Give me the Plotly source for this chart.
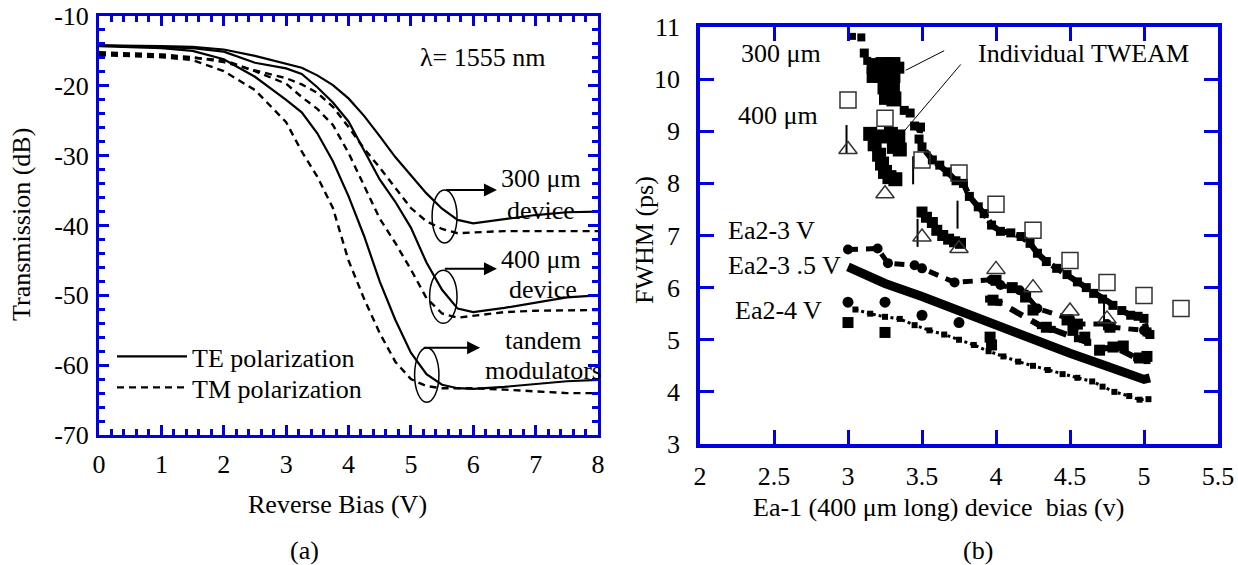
import plotly.graph_objects as go

FONT = "Liberation Serif"
BLUE = "#0000e0"
BLK = "black"

# ---------------- Panel (a) data ----------------
bias = [0, 0.5, 1, 1.5, 2, 2.5, 3, 3.25, 3.5, 3.75, 4, 4.25, 4.5, 4.75, 5,
        5.25, 5.5, 5.75, 6, 6.5, 7, 7.5, 8]
te_300 = [-14.2, -14.2, -14.3, -14.4, -14.8, -15.7, -16.8, -17.4, -18.5, -19.9, -21.8,
          -24.3, -27.2, -30.2, -32.8, -35.4, -37.6, -39.2, -39.7, -39.1, -38.5, -38.1, -38.0]
tm_300 = [-15.2, -15.3, -15.5, -15.9, -16.6, -17.8, -18.9, -19.8, -21.0, -23.0, -25.9,
          -29.0, -31.7, -34.6, -37.5, -39.4, -40.5, -41.1, -41.0, -40.8, -40.8, -40.8, -40.8]
te_400 = [-14.2, -14.3, -14.4, -14.6, -15.1, -16.7, -17.5, -18.3, -20.2, -22.4, -25.1,
          -29.2, -33.4, -36.6, -40.3, -45.3, -49.2, -51.9, -52.4, -51.8, -51.0, -50.3, -50.0]
tm_400 = [-15.4, -15.5, -15.7, -16.0, -16.3, -17.9, -19.7, -21.6, -23.3, -25.6, -29.6,
          -34.3, -39.0, -42.5, -46.3, -50.4, -52.6, -53.2, -52.9, -52.4, -52.2, -52.1, -52.1]
te_tandem = [-14.3, -14.4, -14.6, -15.0, -16.2, -18.7, -22.0, -23.8, -26.8, -30.8, -35.8,
             -41.5, -48.0, -53.5, -58.2, -61.3, -62.8, -63.3, -63.4, -63.1, -62.7, -62.3, -62.1]
tm_tandem = [-15.6, -15.7, -15.9, -16.3, -17.9, -20.6, -25.2, -29.4, -33.0, -37.5, -45.0,
             -50.5, -55.4, -59.5, -62.0, -63.0, -63.3, -63.3, -63.3, -63.5, -63.8, -64.0, -64.0]
a_xticks = [0, 1, 2, 3, 4, 5, 6, 7, 8]
a_yticks = [-70, -60, -50, -40, -30, -20, -10]
a_yticktext = ["-70", "-60", "-50", "-40", "-30", "-20", "-10"]

# ---------------- Panel (b) data ----------------
blob300_x = [3.03, 3.09, 3.11, 3.13, 3.18, 3.24, 3.30, 3.34, 3.18, 3.24, 3.30, 3.25, 3.30, 3.26, 3.31, 3.38, 3.42]
blob300_y = [10.82, 10.8, 10.5, 10.35, 10.25, 10.27, 10.27, 10.22, 10.08, 10.08, 10.08, 9.85, 9.85, 9.65, 9.62, 9.4, 9.35]
blob300_s = [7, 8, 9, 8, 16, 16, 16, 12, 16, 16, 16, 15, 15, 15, 15, 9, 9]

trail300_x = [3.45, 3.49, 3.48, 3.50, 3.57, 3.62, 3.67, 3.73, 3.78, 3.82, 3.88, 3.92, 3.97, 4.03,
              4.10, 4.17, 4.23, 4.28, 4.34, 4.41, 4.48, 4.55, 4.61, 4.66, 4.72, 4.79, 4.85, 4.91,
              4.96, 5.00, 5.02, 5.04]
trail300_y = [9.1, 9.08, 8.85, 8.7, 8.45, 8.35, 8.22, 8.05, 8.0, 7.75, 7.55, 7.42, 7.2, 7.08,
              7.05, 6.98, 6.85, 6.66, 6.5, 6.37, 6.25, 6.11, 6.0, 5.89, 5.78, 5.66, 5.56, 5.47,
              5.45, 5.41, 5.15, 5.1]

tweam400_x = [3.15, 3.18, 3.21, 3.23, 3.25, 3.28, 3.32, 3.34, 3.31, 3.35, 3.22, 3.29]
tweam400_y = [8.95, 8.75, 8.55, 8.38, 8.22, 8.12, 8.08, 8.9, 8.7, 8.65, 8.9, 8.95]
low400_x = [3.5, 3.53, 3.57, 3.6, 3.64, 3.68, 3.72, 3.76]
low400_y = [7.45, 7.35, 7.25, 7.1, 7.0, 6.93, 6.88, 6.85]

bars_x = [2.99, 3.44, 3.74, 3.47, 4.73]
bars_y = [8.85, 8.25, 7.4, 7.05, 5.45]

osq_x = [3.0, 3.25, 3.5, 3.75, 4.0, 4.25, 4.5, 4.75, 5.0, 5.25]
osq_y = [9.6, 9.25, 8.45, 8.2, 7.6, 7.1, 6.52, 6.1, 5.85, 5.6]
otri_x = [3.0, 3.25, 3.5, 3.75, 4.0, 4.25, 4.5, 4.75]
otri_y = [8.65, 7.8, 6.97, 6.75, 6.35, 6.0, 5.55, 5.4]

ea23_x = [3.0, 3.2, 3.27, 3.45, 3.5, 3.72, 3.97, 4.03, 4.16, 4.2, 4.28, 4.5, 4.55, 4.75, 4.78, 5.0, 5.03]
ea23_y = [6.73, 6.75, 6.47, 6.43, 6.37, 6.1, 6.15, 6.05, 5.95, 5.87, 5.6, 5.4, 5.3, 5.3, 5.24, 5.18, 5.12]

ea235_x = [3.0, 3.25, 3.5, 3.75, 4.0, 4.25, 4.5, 4.75, 5.0, 5.04]
ea235_y = [6.40, 6.08, 5.83, 5.55, 5.27, 5.02, 4.74, 4.49, 4.24, 4.27]

ea235d_x = [3.95, 4.02, 4.3, 4.38, 4.55, 4.62, 4.7, 4.8, 4.95, 5.02]
ea235d_y = [5.78, 5.72, 5.27, 5.2, 5.02, 4.95, 4.82, 4.86, 4.65, 4.6]

ea24c_x = [3.0, 3.25, 3.5, 3.75]
ea24c_y = [5.72, 5.72, 5.47, 5.33]
ea24s_x = [3.0, 3.25]
ea24s_y = [5.33, 5.14]
ea24d_x = [3.05, 3.15, 3.25, 3.35, 3.45, 3.55, 3.65, 3.75, 3.85, 3.95, 4.05, 4.15, 4.25, 4.35,
           4.45, 4.55, 4.65, 4.72, 4.8, 4.9, 4.97, 5.03]
ea24d_y = [5.58, 5.5, 5.44, 5.4, 5.28, 5.18, 5.1, 5.0, 4.9, 4.78, 4.68, 4.58, 4.5, 4.42,
           4.34, 4.27, 4.2, 4.1, 4.0, 3.92, 3.85, 3.86]

mid_x = [3.96, 3.97, 3.98, 4.0, 4.11, 4.2, 4.25, 4.34, 4.48, 4.52, 4.55, 4.6, 4.7, 4.77, 4.79, 4.86, 4.97, 5.02]
mid_y = [5.05, 4.9, 5.76, 6.14, 6.0, 5.82, 5.57, 5.24, 5.38, 5.18, 5.3, 5.05, 4.8, 5.24, 4.86, 4.88, 4.65, 4.68]

fig = go.Figure()

# ---- panel a traces
solid = dict(color=BLK, width=2.2)
dashed = dict(color=BLK, width=2.4, dash="7px,5px")
fig.add_trace(go.Scatter(x=bias, y=te_300, mode="lines", line=solid, name="TE polarization",
                         legend="legend", showlegend=True, xaxis="x", yaxis="y"))
fig.add_trace(go.Scatter(x=bias, y=te_400, mode="lines", line=solid, showlegend=False, xaxis="x", yaxis="y"))
fig.add_trace(go.Scatter(x=bias, y=te_tandem, mode="lines", line=solid, showlegend=False, xaxis="x", yaxis="y"))
fig.add_trace(go.Scatter(x=bias, y=tm_300, mode="lines", line=dashed, name="TM polarization",
                         legend="legend2", showlegend=True, xaxis="x", yaxis="y"))
fig.add_trace(go.Scatter(x=bias, y=tm_400, mode="lines", line=dashed, showlegend=False, xaxis="x", yaxis="y"))
fig.add_trace(go.Scatter(x=bias, y=tm_tandem, mode="lines", line=dashed, showlegend=False, xaxis="x", yaxis="y"))

# ---- panel b traces
NOLINE = dict(width=0)

def sc(x, y, **kw):
    fig.add_trace(go.Scatter(x=x, y=y, xaxis="x2", yaxis="y2", showlegend=False, **kw))

sc(ea24d_x, ea24d_y, mode="lines+markers", line=dict(color=BLK, width=3, dash="dot"),
   marker=dict(symbol="square", size=6, color=BLK, line=NOLINE, opacity=1))
sc(ea235_x, ea235_y, mode="lines", line=dict(color=BLK, width=9))
sc(ea235d_x, ea235d_y, mode="lines+markers", line=dict(color=BLK, width=6, dash="14px,10px"),
   marker=dict(symbol="square", size=7, color=BLK, line=NOLINE, opacity=1))
sc(ea23_x, ea23_y, mode="lines+markers", line=dict(color=BLK, width=5, dash="10px,8px"),
   marker=dict(symbol="circle", size=10, color=BLK, line=NOLINE, opacity=1))
sc(ea24c_x, ea24c_y, mode="markers", marker=dict(symbol="circle", size=11, color=BLK, line=NOLINE, opacity=1))
sc(ea24s_x, ea24s_y, mode="markers", marker=dict(symbol="square", size=11, color=BLK, line=NOLINE, opacity=1))
sc(mid_x, mid_y, mode="markers", marker=dict(symbol="square", size=11, color=BLK, line=NOLINE, opacity=1))
sc(blob300_x, blob300_y, mode="markers",
   marker=dict(symbol="square", size=blob300_s, color=BLK, line=NOLINE, opacity=1))
sc(trail300_x, trail300_y, mode="lines+markers", line=dict(color=BLK, width=6, dash="12px,4px"),
   marker=dict(symbol="square", size=9, color=BLK, line=NOLINE, opacity=1))
sc(tweam400_x, tweam400_y, mode="markers",
   marker=dict(symbol="square", size=14, color=BLK, line=NOLINE, opacity=1))
sc(low400_x, low400_y, mode="lines+markers", line=dict(color=BLK, width=7),
   marker=dict(symbol="square", size=11, color=BLK, line=NOLINE, opacity=1))
sc(bars_x, bars_y, mode="markers", marker=dict(symbol="line-ns", size=20, opacity=1,
                                              line=dict(color=BLK, width=2)))
sc(osq_x, osq_y, mode="markers", marker=dict(symbol="square-open", size=16, color="#333333", opacity=1,
                                            line=dict(width=1.5)))
sc(otri_x, otri_y, mode="markers", marker=dict(symbol="triangle-up-open", size=16, color="#333333",
                                              opacity=1, line=dict(width=1.5)))

ann = []
def txt(x, y, t, xref="x", yref="y", size=26, **kw):
    d = dict(x=x, y=y, xref=xref, yref=yref, text=t, showarrow=False,
             xanchor="center", yanchor="middle",
             font=dict(family=FONT, size=size, color=BLK))
    d.update(kw)
    ann.append(d)

# panel a labels
txt(6.15, -16.0, "λ= 1555 nm")
txt(7.09, -33.2, "300 μm")
txt(7.09, -37.8, "device")
txt(7.09, -44.9, "400 μm")
txt(7.12, -49.2, "device")
txt(7.12, -56.4, "tandem")
txt(7.12, -60.7, "modulators")
for (x0, x1, y) in [(5.54, 6.38, -34.9), (5.52, 6.38, -46.2), (5.18, 6.11, -57.5)]:
    ann.append(dict(x=x1, y=y, ax=x0, ay=y, xref="x", yref="y", axref="x", ayref="y", text="",
                    showarrow=True, arrowhead=2, arrowsize=1.3, arrowwidth=2, arrowcolor=BLK))
txt(22 / 1238, 1 - 225 / 565, "Transmission (dB)", xref="paper", yref="paper", textangle=-90)
txt(337 / 1238, 1 - 505 / 565, "Reverse Bias (V)", xref="paper", yref="paper")
txt(304 / 1238, 1 - 550 / 565, "(a)", xref="paper", yref="paper")

# panel b labels
txt(2.55, 10.5, "300 μm", xref="x2", yref="y2")
txt(2.53, 9.31, "400 μm", xref="x2", yref="y2")
txt(4.59, 10.5, "Individual TWEAM", xref="x2", yref="y2")
txt(2.48, 7.10, "Ea2-3 V", xref="x2", yref="y2")
txt(2.57, 6.43, "Ea2-3 .5 V", xref="x2", yref="y2")
txt(2.53, 5.57, "Ea2-4 V", xref="x2", yref="y2")
for (x0, y0, x1, y1) in [(3.66, 10.56, 3.39, 10.17), (3.77, 10.31, 3.37, 8.97)]:
    ann.append(dict(x=x1, y=y1, ax=x0, ay=y0, xref="x2", yref="y2", axref="x2", ayref="y2", text="",
                    showarrow=True, arrowhead=0, arrowwidth=1, arrowcolor=BLK))
txt(644 / 1238, 1 - 240 / 565, "FWHM (ps)", xref="paper", yref="paper", textangle=-90)
txt(938 / 1238, 1 - 507 / 565, "Ea-1 (400 μm long) device  bias (v)", xref="paper", yref="paper")
txt(978 / 1238, 1 - 550 / 565, "(b)", xref="paper", yref="paper")

shapes = []
for (x0, x1, y0, y1) in [(5.34, 5.74, -34.9, -42.5), (5.30, 5.74, -46.4, -54.0), (5.06, 5.45, -57.5, -65.3)]:
    shapes.append(dict(type="circle", xref="x", yref="y", x0=x0, x1=x1, y0=y0, y1=y1,
                       line=dict(color=BLK, width=1.5)))

tickfont = dict(family=FONT, size=26, color=BLK)
axa = dict(showline=True, linecolor=BLUE, linewidth=3, mirror="allticks", ticks="inside",
           tickcolor=BLUE, tickwidth=2.5, ticklen=10, showgrid=False, zeroline=False,
           tickfont=tickfont, automargin=False)
axb = dict(showline=True, linecolor=BLUE, linewidth=3.5, mirror="allticks", ticks="inside",
           tickcolor=BLUE, tickwidth=3, ticklen=14, showgrid=False, zeroline=False,
           tickfont=tickfont, automargin=False)
legfont = dict(family=FONT, size=26, color=BLK)

fig.update_layout(
    template="none",
    width=1238, height=565, margin=dict(l=0, r=0, t=0, b=0, autoexpand=False),
    paper_bgcolor="white", plot_bgcolor="white",
    font=dict(family=FONT, size=26, color=BLK),
    xaxis=dict(axa, domain=[99 / 1238, 598 / 1238], range=[0, 8], tickvals=a_xticks,
               ticklabelstandoff=4,
               minor=dict(ticks="inside", dtick=0.2, ticklen=6, tickwidth=2.5, tickcolor=BLUE),
               anchor="y"),
    yaxis=dict(axa, domain=[1 - 435 / 565, 1 - 16 / 565], range=[-70, -10],
               tickvals=a_yticks, ticktext=a_yticktext, ticklabelstandoff=2,
               minor=dict(ticks="inside", dtick=2, ticklen=6, tickwidth=2.5, tickcolor=BLUE),
               anchor="x"),
    xaxis2=dict(axb, domain=[700 / 1238, 1218 / 1238], range=[2, 5.5], dtick=0.5, tick0=2,
                ticklabelstandoff=6, anchor="y2"),
    yaxis2=dict(axb, domain=[1 - 444 / 565, 1 - 27 / 565], range=[3, 11], dtick=1, tick0=3,
                ticklabelstandoff=11, anchor="x2"),
    legend=dict(x=112 / 1238, y=1 - 333 / 565, xanchor="left", yanchor="top",
                bgcolor="rgba(0,0,0,0)", font=legfont, itemwidth=70),
    legend2=dict(x=112 / 1238, y=1 - 364 / 565, xanchor="left", yanchor="top",
                 bgcolor="rgba(0,0,0,0)", font=legfont, itemwidth=70),
    annotations=ann, shapes=shapes,
)

fig.write_html("out.html")
